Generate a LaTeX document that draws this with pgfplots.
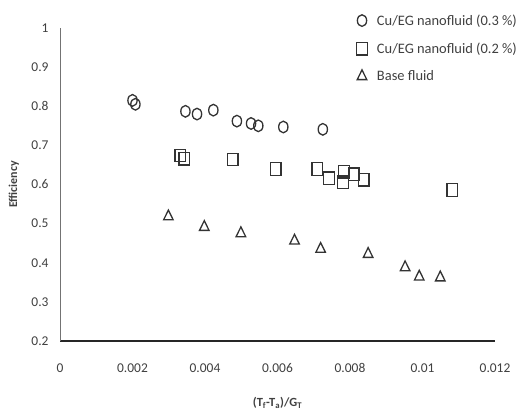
\documentclass[border=0pt]{standalone}
\usepackage{pgfplots}
\pgfplotsset{compat=1.18}
\usepackage{fontspec}
\setmainfont{Carlito}
\definecolor{mk}{HTML}{333333}
\definecolor{tx}{HTML}{404040}
\begin{document}
\begin{tikzpicture}[x=1bp,y=1bp]
\useasboundingbox (0,0) rectangle (521,412);
\begin{axis}[
  at={(60bp,71bp)}, anchor=south west,
  scale only axis, width=435bp, height=313bp,
  xmin=0, xmax=0.012, ymin=0.2, ymax=1,
  xtick={0,0.002,0.004,0.006,0.008,0.01,0.012},
  xticklabels={0,0.002,0.004,0.006,0.008,0.01,0.012},
  ytick={0.2,0.3,0.4,0.5,0.6,0.7,0.8,0.9,1},
  yticklabels={0.2,0.3,0.4,0.5,0.6,0.7,0.8,0.9,1},
  scaled x ticks=false,
  axis x line*=bottom, axis y line*=left,
  x axis line style={-, line width=1.2bp, color=black!85},
  y axis line style={-, line width=0.8bp, color=black!55},
  major tick length=0pt,
  tick style={draw=none},
  tick label style={font=\fontsize{13.5}{15}\selectfont, text=tx},
  xticklabel style={yshift=-19bp},
  yticklabel style={xshift=-8bp},
  xlabel={\textbf{(T\textsubscript{f}-T\textsubscript{a})/G\textsubscript{T}}},
  xlabel style={font=\fontsize{12.5}{14}\selectfont, text=tx, at={(axis description cs:0.5,-0.197)}, anchor=center},
  ylabel={\textbf{Efficiency}},
  ylabel style={font=\fontsize{12}{14}\selectfont, text=tx, at={(axis description cs:-0.106,0.5)}, anchor=center},
  legend style={draw=none, fill=none, at={(0.68,1.05)}, anchor=north west,
    font=\fontsize{14.5}{16}\selectfont, text=tx, row sep=12bp, column sep=7bp, inner sep=0pt,
    cells={anchor=west}},
  legend cell align=left,
  legend image code/.code={\path[draw=none] (0bp,0bp) -- (12bp,0bp); \draw plot[only marks] coordinates {(6bp,0bp)};},
  clip=false,
]
\addplot[only marks, mark=o, mark size=5.8bp, mark options={xscale=0.8, draw=mk, line width=1.3bp}] coordinates {
(0.00200,0.815) (0.00208,0.805) (0.00346,0.787) (0.00378,0.780) (0.00423,0.790)
(0.00488,0.762) (0.00527,0.756) (0.00547,0.750) (0.00616,0.747) (0.00725,0.741)
};
\addlegendentry{Cu/EG nanofluid (0.3 \%)}
\addplot[only marks, mark=square, mark size=6.3bp, mark options={xscale=0.85, draw=mk, line width=1.3bp}] coordinates {
(0.00332,0.674) (0.00343,0.666) (0.00476,0.664) (0.00595,0.640) (0.00710,0.640)
(0.00742,0.616) (0.00783,0.633) (0.00781,0.606) (0.00810,0.626) (0.00838,0.612)
(0.01082,0.586)
};
\addlegendentry{Cu/EG nanofluid (0.2 \%)}
\addplot[only marks, mark=triangle, mark size=6.5bp, mark options={xscale=0.85, draw=mk, line width=1.3bp}] coordinates {
(0.00299,0.518) (0.00398,0.491) (0.00499,0.475) (0.00647,0.456) (0.00719,0.435)
(0.00850,0.422) (0.00952,0.388) (0.00991,0.364) (0.01049,0.362)
};
\addlegendentry{Base fluid}
\end{axis}
\end{tikzpicture}
\end{document}
